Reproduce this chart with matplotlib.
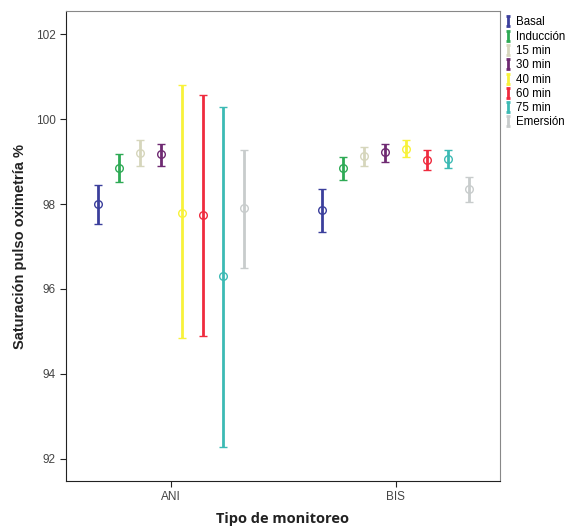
import matplotlib.pyplot as plt
import numpy as np
from matplotlib.lines import Line2D
from matplotlib.path import Path

# Saturación pulso oximetría por tipo de monitoreo (media e IC 95%)
groups = ["ANI", "BIS"]
series = ["Basal", "Inducción", "15 min", "30 min", "40 min", "60 min", "75 min", "Emersión"]
colors = ["#3b3f9c", "#2eaa55", "#d6d6bc", "#6f2a72", "#f8f23a", "#ef2b3e", "#3cbab4", "#c8cccc"]

ani_mean = [98.00, 98.85, 99.20, 99.17, 97.78, 97.74, 96.30, 97.90]
ani_low = [97.53, 98.53, 98.90, 98.90, 94.85, 94.89, 92.28, 96.50]
ani_high = [98.45, 99.17, 99.50, 99.42, 100.80, 100.56, 100.28, 99.27]

bis_mean = [97.86, 98.85, 99.13, 99.22, 99.30, 99.04, 99.06, 98.35]
bis_low = [97.34, 98.56, 98.90, 99.00, 99.10, 98.80, 98.85, 98.05]
bis_high = [98.35, 99.11, 99.35, 99.42, 99.50, 99.27, 99.27, 98.64]

means = np.array([ani_mean, bis_mean])
lows = np.array([ani_low, bis_low])
highs = np.array([ani_high, bis_high])

fig = plt.figure(figsize=(5.68, 5.32), dpi=100)
ax = fig.add_axes([0.1162, 0.0959, 0.7638, 0.8831])

xpos = np.arange(len(groups))
step = 0.0933
for i, name in enumerate(series):
    x = xpos + (i - 3.5) * step
    m = means[:, i]
    err = [m - lows[:, i], highs[:, i] - m]
    ax.errorbar(x, m, yerr=err, fmt="o", color=colors[i], ecolor=colors[i],
                markerfacecolor="none", markeredgecolor=colors[i], markersize=5.5,
                markeredgewidth=1.0, elinewidth=2.0, capsize=3, capthick=2.0)

ax.set_xlim(-0.467, 1.462)
ax.set_ylim(91.48, 102.54)
ax.set_xticks(xpos)
ax.set_xticklabels(groups)
ax.set_yticks([92, 94, 96, 98, 100, 102])

for s in ["top", "right"]:
    ax.spines[s].set_color("#888888")
for s in ["left", "bottom"]:
    ax.spines[s].set_color("#222222")
ax.tick_params(axis="both", labelsize=8.5, labelcolor="#444444", length=4, color="#222222")
for t in ax.get_xticklabels() + ax.get_yticklabels():
    t.set_family("Liberation Sans")

ax.set_ylabel("Saturación pulso oximetría %", fontsize=10.5, fontweight="bold",
              family="Liberation Sans", color="#222222", labelpad=6)
ax.set_xlabel("Tipo de monitoreo", fontsize=10.5, fontweight="bold",
              family="Open Sans", color="#222222", labelpad=6)

# legend icon: small capped vertical bar
ibeam = Path([(-0.5, -1), (0.5, -1), (0, -1), (0, 1), (-0.5, 1), (0.5, 1)],
             [Path.MOVETO, Path.LINETO, Path.MOVETO, Path.LINETO, Path.MOVETO, Path.LINETO])
handles = [Line2D([], [], linestyle="none", marker=ibeam, markersize=7,
                  markeredgewidth=2.0, markeredgecolor=c, markerfacecolor="none")
           for c in colors]
ax.legend(handles, series, loc="upper left", bbox_to_anchor=(1.0, 1.0), frameon=False,
          prop={"family": "Liberation Sans", "size": 8.3},
          handlelength=0.5, handletextpad=0.45, labelspacing=0.2,
          borderaxespad=0.05)

fig.savefig("out.png", dpi=100)
